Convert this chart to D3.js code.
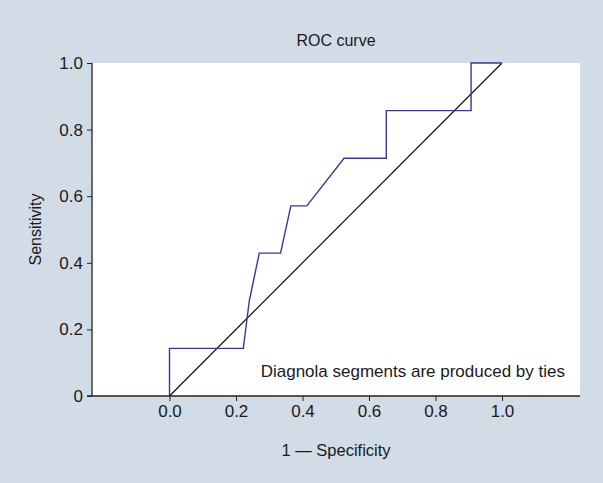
<!DOCTYPE html>
<html lang="en">
<head>
    <meta charset="UTF-8">
    <title>ROC curve</title>
    <script src="https://cdn.jsdelivr.net/npm/d3@7"></script>
    <style>
        body { margin: 0; background: #d1dce6; }
        text { font-family: "Liberation Sans", Arial, sans-serif; fill: #1a1a1a; }
    </style>
</head>
<body>
<div id="container"></div>
<script>
    // ROC curve points (1 - specificity, sensitivity)
    var fpr = [0, 0, 0.222, 0.24, 0.27, 0.334, 0.365, 0.413, 0.525, 0.652, 0.652, 0.907, 0.907, 1.0];
    var tpr = [0, 0.143, 0.143, 0.286, 0.429, 0.429, 0.571, 0.571, 0.714, 0.714, 0.857, 0.857, 1.0, 1.0];
    var xTicks = [0, 0.2, 0.4, 0.6, 0.8, 1.0];
    var yTicks = [0, 0.2, 0.4, 0.6, 0.8, 1.0];
    var note = "Diagnola segments are produced by ties";

    var W = 603, H = 483;
    var plotLeft = 92, plotRight = 580, plotTop = 63, plotBottom = 396;

    var svg = d3.select("#container").append("svg")
        .attr("width", W)
        .attr("height", H);

    svg.append("rect")
        .attr("width", W).attr("height", H)
        .attr("fill", "#d1dce6");

    // x: 0 -> 169.5, 1 -> 502
    var x = d3.scaleLinear().domain([0, 1]).range([169.5, 502]);
    var y = d3.scaleLinear().domain([0, 1]).range([plotBottom, plotTop]);

    svg.append("rect")
        .attr("x", plotLeft).attr("y", plotTop)
        .attr("width", plotRight - plotLeft).attr("height", plotBottom - plotTop)
        .attr("fill", "white");

    // axes
    var xAxis = d3.axisBottom(x).tickValues(xTicks).tickFormat(d3.format(".1f")).tickSize(5).tickSizeOuter(0).tickPadding(4);
    var gx = svg.append("g").attr("transform", "translate(0," + plotBottom + ")").call(xAxis);
    gx.select(".domain").remove();
    gx.append("line").attr("x1", plotLeft - 5).attr("x2", plotRight).attr("stroke", "#222").attr("stroke-width", 1.3);

    var yAxis = d3.axisLeft(y).tickValues(yTicks).tickFormat(d => d === 0 ? "0" : d3.format(".1f")(d)).tickSize(5).tickSizeOuter(0).tickPadding(4);
    var gy = svg.append("g").attr("transform", "translate(" + plotLeft + ",0)").call(yAxis);
    gy.select(".domain").remove();
    gy.append("line").attr("y1", plotTop).attr("y2", plotBottom).attr("stroke", "#222").attr("stroke-width", 1.3);

    svg.selectAll(".tick line").attr("stroke", "#222");
    svg.selectAll(".tick text").style("font-size", "17px").attr("fill", "#1a1a1a")
        .style("font-family", "'Liberation Sans', Arial, sans-serif");

    // diagonal
    svg.append("line")
        .attr("x1", x(0)).attr("y1", y(0))
        .attr("x2", x(1)).attr("y2", y(1))
        .attr("stroke", "#111").attr("stroke-width", 1.2);

    // ROC curve
    var pts = fpr.map((d, i) => [d, tpr[i]]);
    svg.append("path")
        .datum(pts)
        .attr("fill", "none")
        .attr("stroke", "#3a3896")
        .attr("stroke-width", 1.4)
        .attr("d", d3.line().x(d => x(d[0])).y(d => y(d[1])));

    // labels
    svg.append("text")
        .attr("x", (plotLeft + plotRight) / 2).attr("y", 46)
        .attr("text-anchor", "middle")
        .style("font-size", "16px")
        .text("ROC curve");

    svg.append("text")
        .attr("transform", "translate(41," + ((plotTop + plotBottom) / 2) + ") rotate(-90)")
        .attr("text-anchor", "middle")
        .style("font-size", "16px")
        .text("Sensitivity");

    svg.append("text")
        .attr("x", (plotLeft + plotRight) / 2).attr("y", 456)
        .attr("text-anchor", "middle")
        .style("font-size", "16.5px")
        .text("1 \u2014 Specificity");

    svg.append("text")
        .attr("x", 565).attr("y", 377)
        .attr("text-anchor", "end")
        .style("font-size", "17px")
        .text(note);
</script>
</body>
</html>
